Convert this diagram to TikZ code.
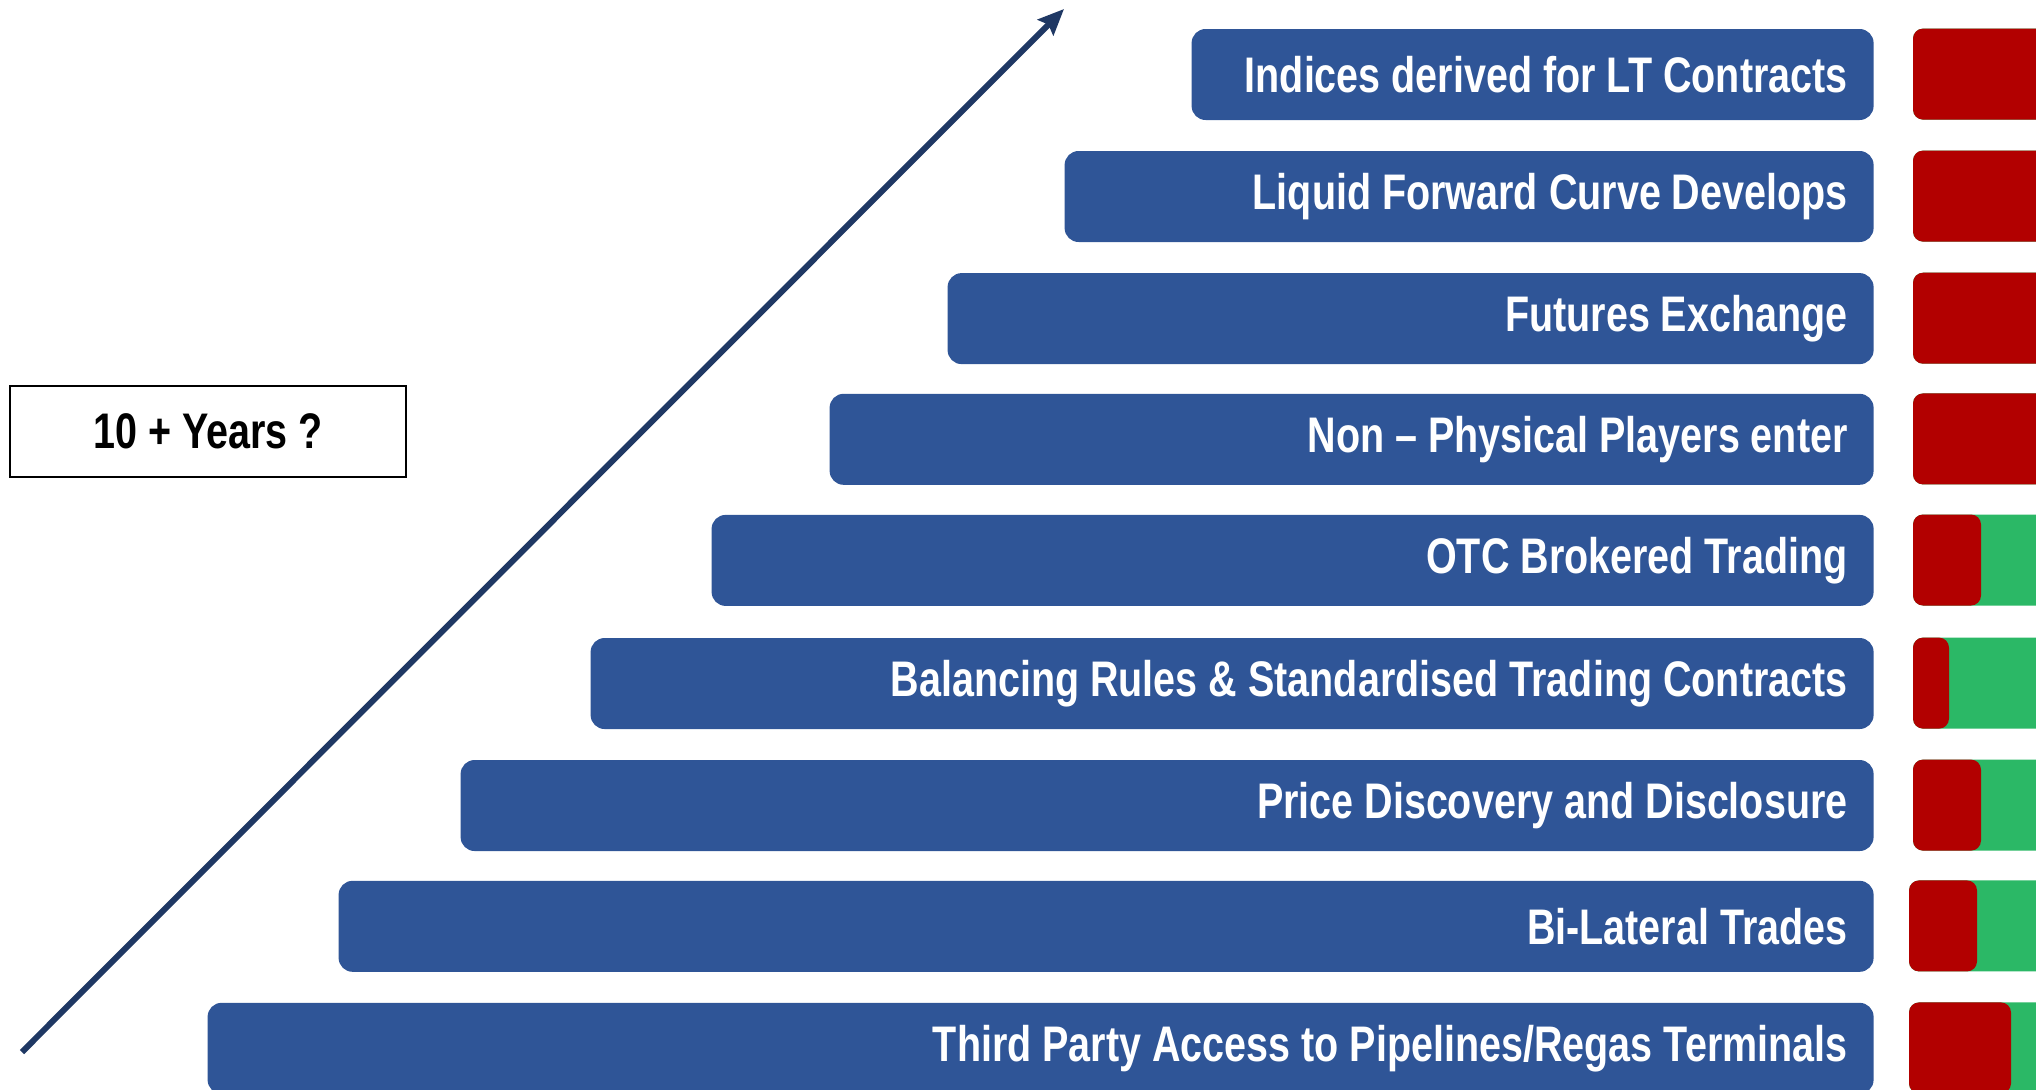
\documentclass[tikz,border=0pt]{standalone}
\usepackage{fontspec}
\newfontfamily\narrowfont{Liberation Sans}[FakeStretch=0.79]
\usetikzlibrary{arrows.meta}

\definecolor{barblue}{HTML}{2F5597}
\definecolor{statred}{HTML}{B20000}
\definecolor{statgreen}{HTML}{2BB866}
\definecolor{arrownavy}{HTML}{1F3864}

\begin{document}
\begin{tikzpicture}[x=0.5pt,y=-0.5pt,
    bar/.style={fill=barblue,rounded corners=7pt,anchor=north east,
      minimum height=45.5pt,inner xsep=13pt,inner ysep=0pt,align=flush right,
      text=white,font=\narrowfont\bfseries\fontsize{25}{29}\selectfont},
    years/.style={draw,line width=1pt,minimum width=198pt,minimum height=45.5pt,
      font=\narrowfont\bfseries\fontsize{25}{29}\selectfont},
    status/.style={rounded corners=5pt}]
  \useasboundingbox (0,0) rectangle (2036,1089);
  \clip (0,0) rectangle (2036,1089);

  % stages, top to bottom
  \node[bar,text width=315pt]   (indices)   at (1874,28.6)  {Indices derived for LT Contracts};
  \node[bar,text width=378.5pt] (fwdcurve)  at (1874,150.6) {Liquid Forward Curve Develops};
  \node[bar,text width=437pt]   (futures)   at (1874,272.7) {Futures Exchange};
  \node[bar,text width=496pt]   (nonphys)   at (1874,393.4) {Non \textendash{} Physical Players enter};
  \node[bar,text width=555pt]   (otc)       at (1874,514.5) {OTC Brokered Trading};
  \node[bar,text width=615.5pt] (balancing) at (1874,637.6) {Balancing Rules \& Standardised Trading Contracts};
  \node[bar,text width=680.5pt] (pricedisc) at (1874,759.6) {Price Discovery and Disclosure};
  \node[bar,text width=741.5pt] (bilateral) at (1874,880.4) {Bi-Lateral Trades};
  \node[bar,text width=807pt]   (tpa)       at (1874,1002.4) {Third Party Access to Pipelines/Regas Terminals};

  % red/green status per stage
  \foreach \y/\s/\r in {28.6/1913/2080, 150.6/1913/2080, 272.7/1913/2080,
      393.4/1913/2080, 514.5/1913/1981, 637.6/1913/1949, 759.6/1913/1981,
      880.4/1909/1977, 1002.4/1909/2011} {
    \fill[statgreen,status] (\s,\y) rectangle (2080,\y+91);
    \fill[statred,status] (\s,\y) rectangle (\r,\y+91);
  }

  \node[years] (years) at (208,431.5) {10 + Years ?};

  \coordinate (start) at (22,1052);
  \coordinate (tip) at (1064,9);
  \draw[arrownavy,line width=3pt,-{Stealth[length=13pt,width=11pt,inset=2pt]}] (start) -- (tip);
\end{tikzpicture}
\end{document}
